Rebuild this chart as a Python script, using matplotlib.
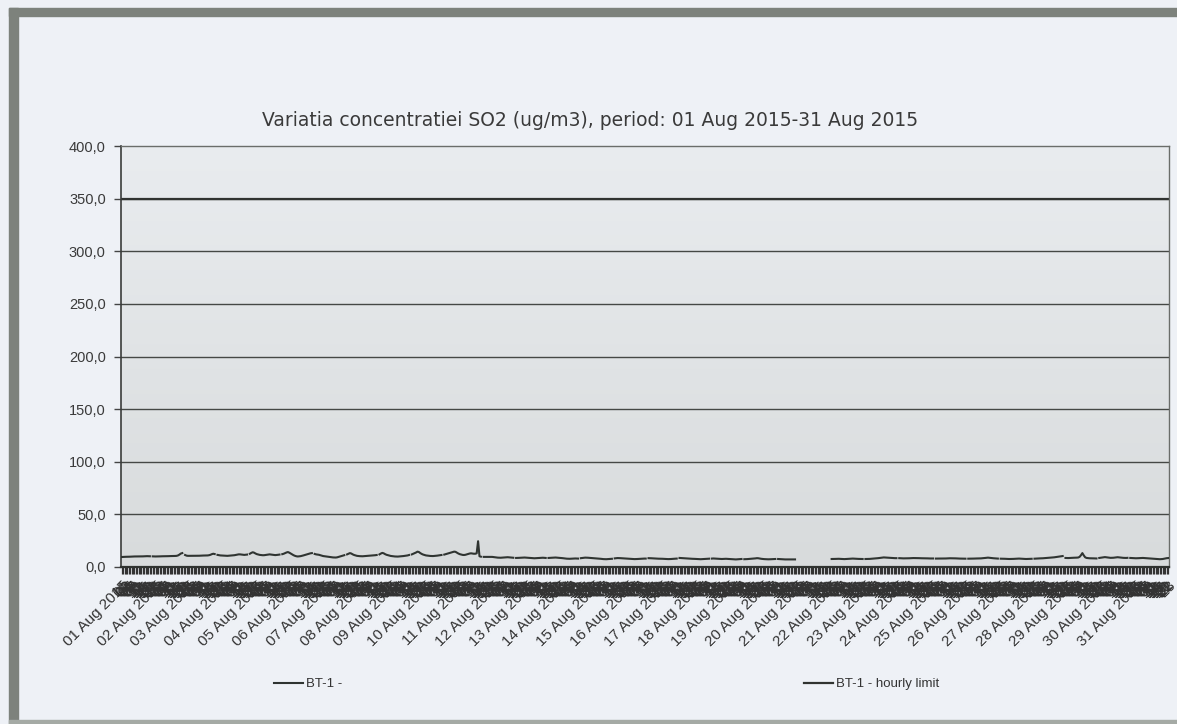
import numpy as np
import matplotlib
matplotlib.use("Agg")
import matplotlib.pyplot as plt
from matplotlib.patches import Rectangle
from matplotlib.colors import LinearSegmentedColormap

N = None
# Hourly SO2 values (ug/m3), one row per day, 01..31 Aug 2015
so2_by_day = [
    [9.5, 9.6, 9.6, 9.7, 9.7, 9.8, 9.8, 9.9, 10.0, 10.0, 10.0, 10.1, 10.1, 10.0, 10.0, 10.1, 10.2, 10.2, 10.3, 10.3, 10.2, N, 10.1, 10.0],
    [10.0, 10.0, 10.1, 10.1, 10.2, 10.2, 10.2, 10.3, 10.3, 10.3, 10.4, 10.4, 10.4, 10.5, 10.5, 10.6, 11.0, 11.8, 12.8, 13.2, N, 11.4, 10.8, 10.6],
    [10.6, 10.6, 10.5, 10.5, 10.6, 10.6, 10.7, 10.7, 10.8, 10.8, 10.9, 10.9, 11.0, 11.0, 11.2, 11.6, 12.2, 12.6, 12.3, N, 11.5, 11.2, 11.0, 10.9],
    [10.8, 10.7, 10.6, 10.6, 10.7, 10.8, 10.9, 11.0, 11.2, 11.5, 11.8, 12.0, 12.0, 11.8, 11.6, 11.5, 11.6, 11.8, N, 12.6, 13.4, 14.0, 13.6, 12.8],
    [12.2, 11.8, 11.5, 11.3, 11.2, 11.2, 11.4, 11.6, 11.8, 12.0, 11.8, 11.6, 11.4, 11.3, 11.4, 11.6, 11.8, N, 12.2, 12.6, 13.2, 13.8, 14.2, 13.6],
    [12.8, 12.0, 11.2, 10.6, 10.2, 10.0, 10.1, 10.3, 10.6, 11.0, 11.4, 11.8, 12.2, 12.6, 13.0, 13.2, N, 12.4, 12.0, 11.8, 11.6, 11.2, 10.8, 10.4],
    [10.2, 10.0, 9.8, 9.6, 9.4, 9.2, 9.1, 9.0, 9.0, 9.2, 9.6, 10.0, 10.4, 10.8, 11.2, N, 12.0, 12.6, 13.2, 12.8, 12.0, 11.4, 11.0, 10.6],
    [10.4, 10.3, 10.2, 10.2, 10.3, 10.4, 10.5, 10.6, 10.7, 10.8, 10.9, 11.0, 11.2, 11.4, N, 12.0, 12.8, 13.4, 13.0, 12.2, 11.6, 11.2, 10.8, 10.5],
    [10.3, 10.1, 10.0, 9.9, 9.9, 10.0, 10.1, 10.2, 10.4, 10.6, 10.8, 11.0, 11.4, N, 12.0, 12.6, 13.2, 13.8, 14.6, 14.2, 13.2, 12.4, 11.8, 11.4],
    [11.0, 10.8, 10.6, 10.5, 10.4, 10.4, 10.5, 10.6, 10.8, 11.0, 11.2, 11.4, N, 11.8, 12.2, 12.6, 13.0, 13.4, 13.8, 14.2, 14.6, 14.4, 13.6, 12.8],
    [12.2, 11.8, 11.5, 11.4, 11.6, 12.0, 12.4, 12.8, 13.0, 12.8, 12.6, 12.6, 13.0, 24.5, 10.2, 9.8, N, 9.6, 9.6, 9.5, 9.5, 9.6, 9.7, 9.6],
    [9.4, 9.2, 9.0, 8.9, 8.8, 8.8, 8.9, 9.0, 9.1, 9.2, 9.3, 9.2, 9.0, 8.9, 8.8, N, 8.6, 8.6, 8.7, 8.8, 8.9, 9.0, 9.0, 8.9],
    [8.8, 8.6, 8.5, 8.4, 8.3, 8.3, 8.4, 8.5, 8.6, 8.7, 8.8, 8.8, 8.7, 8.6, N, 8.6, 8.7, 8.8, 8.9, 9.0, 9.0, 8.9, 8.8, 8.7],
    [8.6, 8.4, 8.2, 8.0, 7.9, 7.8, 7.8, 7.9, 8.0, 8.0, 8.1, 8.1, 8.0, N, 8.4, 8.6, 8.8, 8.9, 8.9, 8.8, 8.7, 8.6, 8.5, 8.4],
    [8.3, 8.2, 8.1, 8.0, 7.8, 7.6, 7.5, 7.4, 7.4, 7.5, 7.6, 7.7, 7.8, N, 8.2, 8.4, 8.5, 8.5, 8.4, 8.3, 8.2, 8.2, 8.1, 8.0],
    [7.9, 7.8, 7.7, 7.6, 7.5, 7.5, 7.6, 7.7, 7.8, 7.9, 8.0, 8.0, 8.0, N, 8.4, 8.4, 8.3, 8.2, 8.1, 8.0, 8.0, 7.9, 7.9, 7.8],
    [7.8, 7.7, 7.6, 7.6, 7.5, 7.5, 7.6, 7.7, 7.8, 7.9, 8.0, N, 8.6, 8.5, 8.4, 8.3, 8.2, 8.2, 8.1, 8.0, 7.9, 7.8, 7.8, 7.7],
    [7.6, 7.5, 7.4, 7.4, 7.5, 7.6, 7.7, 7.8, 7.8, 7.9, N, 8.0, 8.1, 8.0, 7.9, 7.8, 7.7, 7.6, 7.6, 7.7, 7.8, 7.8, 7.7, 7.6],
    [7.5, 7.4, 7.3, 7.2, 7.2, 7.3, 7.4, 7.5, 7.6, N, 7.4, 7.4, 7.5, 7.6, 7.7, 7.8, 7.9, 8.0, 8.2, 8.4, 8.3, 8.0, 7.8, 7.6],
    [7.5, 7.4, 7.4, 7.3, 7.3, 7.4, 7.5, 7.6, 7.6, N, 7.6, 7.5, 7.4, 7.3, 7.3, 7.2, 7.2, 7.2, 7.3, 7.3, 7.3, 7.3, 7.2, N],
    [N] * 24,
    [7.6, 7.6, 7.7, 7.7, 7.8, 7.8, 7.7, 7.6, 7.5, 7.5, 7.6, 7.7, 7.8, 7.9, 8.0, 8.0, 7.9, 7.8, 7.8, 7.7, 7.7, 7.6, 7.6, N],
    [7.6, 7.6, 7.7, 7.7, 7.8, 7.8, 7.9, 8.0, 8.2, 8.4, 8.6, 8.8, 9.0, 9.1, 9.0, 8.9, 8.8, 8.7, 8.6, 8.5, 8.5, 8.4, 8.4, N],
    [8.4, 8.3, 8.3, 8.2, 8.2, 8.2, 8.3, 8.3, 8.4, 8.4, 8.5, 8.5, 8.5, 8.4, 8.4, 8.3, 8.3, 8.3, 8.2, 8.2, 8.2, 8.1, 8.1, 8.1],
    [8.1, N, 8.0, 8.0, 7.9, 7.9, 8.0, 8.0, 8.1, 8.1, 8.2, 8.2, 8.3, 8.3, 8.3, 8.2, 8.2, 8.1, 8.1, 8.0, 8.0, 8.0, 8.0, 7.9],
    [N, 7.9, 7.9, 8.0, 8.0, 8.0, 8.1, 8.1, 8.1, 8.2, 8.2, 8.3, 8.4, 8.6, 8.8, 8.9, 8.8, 8.6, 8.4, 8.3, 8.2, 8.1, 8.0, N],
    [7.9, 7.9, 7.8, 7.8, 7.7, 7.7, 7.6, 7.6, 7.6, 7.7, 7.8, 7.9, 8.0, 8.0, 7.9, 7.8, 7.8, 7.7, 7.6, 7.6, 7.7, 7.8, 7.8, N],
    [7.9, 8.0, 8.0, 8.1, 8.2, 8.2, 8.3, 8.4, 8.5, 8.6, 8.7, 8.8, 8.9, 9.0, 9.2, 9.4, 9.6, 9.8, 10.0, 10.2, 10.4, N, 8.6, 8.5],
    [8.5, 8.6, 8.6, 8.7, 8.8, 8.8, 8.9, 9.0, 9.6, 11.2, 13.2, 11.0, 9.2, 8.6, 8.4, 8.3, 8.3, 8.2, 8.2, 8.1, 8.1, N, 8.6, 8.8],
    [9.0, 9.2, 9.4, 9.2, 9.0, 8.8, 8.7, 8.7, 8.8, 9.0, 9.2, 9.3, 9.2, 9.0, 8.8, 8.7, 8.6, 8.6, 8.7, N, 8.6, 8.5, 8.4, 8.3],
    [8.3, 8.3, 8.4, 8.5, 8.6, 8.6, 8.5, 8.4, 8.3, 8.2, 8.1, 8.0, 7.9, 7.8, 7.7, 7.6, 7.5, 7.4, 7.5, 7.6, 7.9, 8.2, 8.4, 8.5],
]
day_labels = ["%02d Aug 2015" % d for d in range(1, 32)]
hour_labels = ["%02d" % h for h in range(24)]
hourly_limit = 350.0
y_ticks = [0, 50, 100, 150, 200, 250, 300, 350, 400]
title = "Variatia concentratiei SO2 (ug/m3), period: 01 Aug 2015-31 Aug 2015"
series_names = ["BT-1 -", "BT-1 - hourly limit"]

# ---- build hourly series
values = np.array([np.nan if v is None else v for day in so2_by_day for v in day], dtype=float)
n = len(values)
x = np.arange(n)
labels = []
for d in range(len(so2_by_day)):
    for h in range(24):
        labels.append(day_labels[d] if h == 0 else hour_labels[h])

W, H = 1177, 724
fig = plt.figure(figsize=(W / 100, H / 100), dpi=100)
page = "#eef1f6"
fig.patch.set_facecolor(page)

# frame (scanned page border)
border = "#7d827c"
fig.patches.append(Rectangle((9 / W, 0), 9 / W, 1 - 8 / H, transform=fig.transFigure, color=border, zorder=0))
fig.patches.append(Rectangle((9 / W, 1 - 16 / H), 1 - 9 / W, 8 / H, transform=fig.transFigure, color=border, zorder=0))
fig.patches.append(Rectangle((9 / W, 0), 1 - 9 / W, 4 / H, transform=fig.transFigure, color="#a5aaa5", zorder=0))

left, right, top, bottom = 121, 1169, 146, 567
ax = fig.add_axes([left / W, 1 - bottom / H, (right - left) / W, (bottom - top) / H])

# gradient plot area
cmap = LinearSegmentedColormap.from_list("bg", ["#d8dbdc", "#e9ecef"])
grad = np.linspace(0, 1, 256)[:, None]
ax.imshow(grad, extent=[0, 1, 0, 1], transform=ax.transAxes, aspect="auto",
          cmap=cmap, origin="lower", zorder=0)

for yv in y_ticks[1:-1]:
    ax.axhline(yv, color="#454845", lw=1.0, zorder=1)

l_series, = ax.plot(x, values, color="#2f3431", lw=1.5, zorder=3, label=series_names[0])
l_limit, = ax.plot(x, np.full(n, hourly_limit), color="#303330", lw=1.6, zorder=2, label=series_names[1])

ax.set_xlim(-0.5, n - 0.5)
ax.set_ylim(0, 400)

ax.set_yticks(y_ticks)
ax.set_yticklabels([("%.1f" % v).replace(".", ",") for v in y_ticks],
                   fontfamily="Liberation Sans", fontsize=10.5, color="#3a3a3a")
ax.tick_params(axis="y", length=5, width=1, color="#444444", pad=6)

ax.set_xticks(x)
ax.set_xticklabels(labels, rotation=45, ha="right", va="top", rotation_mode="anchor",
                   fontfamily="Liberation Sans", fontsize=11, color="#333333")
ax.tick_params(axis="x", length=5, width=0.9, color="#333333", pad=3)

for s in ["top", "right"]:
    ax.spines[s].set_color("#6a6d6a")
    ax.spines[s].set_linewidth(1.0)
ax.spines["left"].set_color("#3a3c3a")
ax.spines["left"].set_linewidth(1.2)
ax.spines["bottom"].set_color("#2f322f")
ax.spines["bottom"].set_linewidth(1.6)

fig.text(590 / W, 1 - 121 / H, title, ha="center", va="center",
         fontfamily="DejaVu Sans", fontsize=13.5, color="#3a3a3a")

leg_kw = dict(frameon=False, handlelength=2.2, handletextpad=0.2,
              prop={"family": "Liberation Sans", "size": 9.5}, labelcolor="#333333")
fig.legend([l_series], [series_names[0]], loc="center left",
           bbox_to_anchor=(262 / W, 1 - 684 / H), **leg_kw)
fig.legend([l_limit], [series_names[1]], loc="center left",
           bbox_to_anchor=(792 / W, 1 - 684 / H), **leg_kw)

fig.savefig("out.png", dpi=100, facecolor=page)
